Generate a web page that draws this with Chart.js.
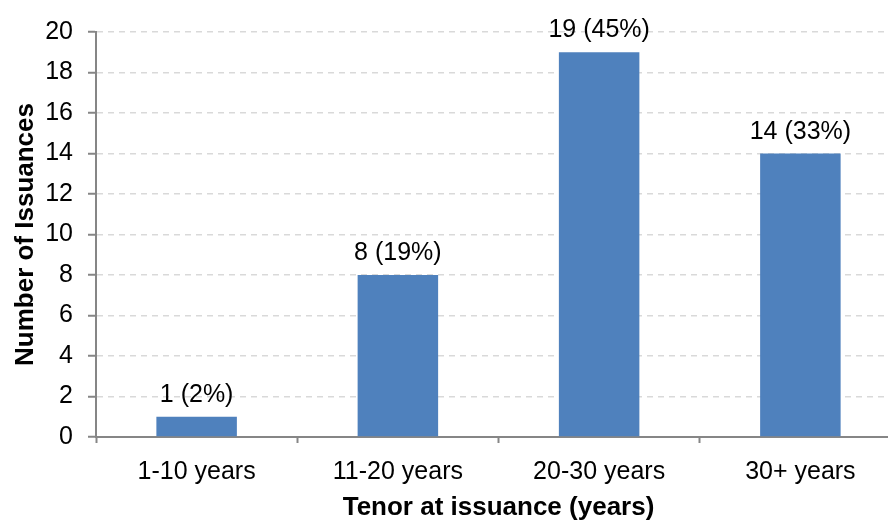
<!DOCTYPE html>
<html>
<head>
<meta charset="utf-8">
<script src="https://cdn.jsdelivr.net/npm/chart.js@4"></script>
<style>
    html, body { margin: 0; padding: 0; background: #fff; overflow: hidden; }
    .chart-box { width: 904px; height: 523px; position: relative; }
</style>
</head>
<body>
<div class="chart-box"><canvas id="tenorChart"></canvas></div>
<script>
const categories = ['1-10 years', '11-20 years', '20-30 years', '30+ years'];
const issuances = [1, 8, 19, 14];
const yTicks = [0, 2, 4, 6, 8, 10, 12, 14, 16, 18, 20];

const FONT = '"Liberation Sans", Arial, sans-serif';
const AXIS_GRAY = '#868686';
const total = issuances.reduce((s, v) => s + v, 0);

// value + share labels above each bar
const barLabels = {
    id: 'barLabels',
    afterDatasetsDraw(chart) {
        const { ctx } = chart;
        const meta = chart.getDatasetMeta(0);
        ctx.save();
        ctx.font = `25px ${FONT}`;
        ctx.fillStyle = '#000';
        ctx.textAlign = 'center';
        ctx.textBaseline = 'alphabetic';
        meta.data.forEach((bar, i) => {
            const v = issuances[i];
            const pct = Math.round(v / total * 100);
            ctx.fillText(`${v} (${pct}%)`, bar.x, bar.y - 15);
        });
        ctx.restore();
    }
};

new Chart(document.getElementById('tenorChart'), {
    type: 'bar',
    data: {
        labels: categories,
        datasets: [{
            data: issuances,
            backgroundColor: '#4F81BD',
            borderWidth: 0,
            barPercentage: 0.4,
            categoryPercentage: 1
        }]
    },
    options: {
        responsive: true, maintainAspectRatio: false,
        animation: false,
        layout: { padding: { top: 32, right: 3, bottom: 0, left: 0 } },
        plugins: { legend: { display: false }, tooltip: { enabled: false } },
        scales: {
            x: {
                afterFit: s => { s.height = 86; },
                grid: { display: true, drawOnChartArea: false, tickLength: 6, tickColor: AXIS_GRAY, tickWidth: 2 },
                border: { display: true, color: AXIS_GRAY, width: 2 },
                ticks: { color: '#000', font: { family: FONT, size: 25 }, padding: 14 },
                title: {
                    display: true, text: 'Tenor at issuance (years)', color: '#000',
                    font: { family: FONT, size: 26, weight: 'bold' }, padding: { top: 6, bottom: 0 }
                }
            },
            y: {
                min: yTicks[0], max: yTicks[yTicks.length - 1],
                afterBuildTicks: scale => { scale.ticks = yTicks.map(v => ({ value: v })); },
                afterFit: s => { s.width = 96; },
                grid: { color: '#D9D9D9', lineWidth: 1.5, tickLength: 8, tickColor: AXIS_GRAY, tickWidth: 2 },
                border: { display: true, color: AXIS_GRAY, width: 2, dash: [6, 5] },
                ticks: { color: '#000', font: { family: FONT, size: 25 }, padding: 15 },
                title: {
                    display: true, text: 'Number of Issuances', color: '#000',
                    font: { family: FONT, size: 26, weight: 'bold' }, padding: { top: 10, bottom: 7 }
                }
            }
        }
    },
    plugins: [barLabels]
});
</script>
</body>
</html>
